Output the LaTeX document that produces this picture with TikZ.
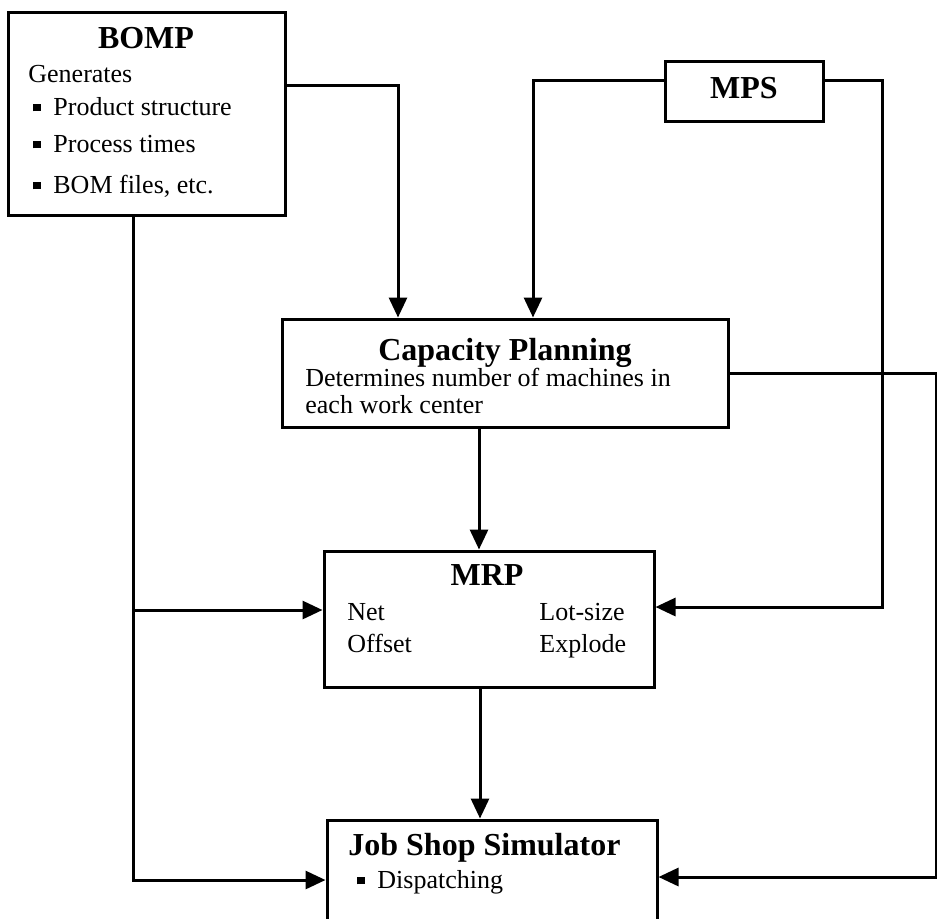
\documentclass[tikz,border=0pt]{standalone}
\usepackage{fontspec}
\setmainfont{Liberation Serif}
\usetikzlibrary{arrows.meta}

\newcommand{\sqitem}{\raisebox{0.3ex}{\rule{3.8pt}{3.8pt}}\hspace{6.2pt}}

\begin{document}
\begin{tikzpicture}[x=0.5pt,y=-0.5pt,
    box/.style={draw, line width=1.5pt, inner sep=0pt},
    ttl/.style={anchor=base, font=\fontsize{16}{18}\selectfont\bfseries, inner sep=0pt},
    txt/.style={anchor=base west, font=\fontsize{13}{15}\selectfont, inner sep=0pt},
    arr/.style={line width=1.5pt, -{Triangle[length=10pt,width=9pt]}}]
            \useasboundingbox (0,0) rectangle (937,918);

            \node[box, minimum width=138.5pt, minimum height=101.5pt] (bomp) at (146.5,113.5) {};
            \node[box, minimum width=79pt, minimum height=30pt] (mps) at (744,91) {};
            \node[box, minimum width=223pt, minimum height=54pt] (cap) at (505,373) {};
            \node[box, minimum width=165pt, minimum height=68pt] (mrp) at (489,619) {};
            \node[box, minimum width=165pt, minimum height=52.5pt] (jss) at (492,872.5) {};

            \node[ttl] (bompT) at (146,48) {BOMP};
            \node[txt] (gen) at (28,82) {Generates};
            \node[txt] (prod) at (33,115) {\sqitem Product structure};
            \node[txt] (proc) at (33,152) {\sqitem Process times};
            \node[txt] (bomf) at (33,193) {\sqitem BOM files, etc.};

            \node[ttl] (mpsT) at (744,98) {MPS};

            \node[ttl] (capT) at (505,360) {Capacity Planning};
            \node[txt] (det1) at (305,386) {Determines number of machines in};
            \node[txt] (det2) at (305,413) {each work center};

            \node[ttl] (mrpT) at (487,585) {MRP};
            \node[txt] (net) at (347,620) {Net};
            \node[txt] (off) at (347,652) {Offset};
            \node[txt] (lot) at (539,620) {Lot-size};
            \node[txt] (exp) at (539,652) {Explode};

            \node[ttl, anchor=base west] (jssT) at (348,855) {Job Shop Simulator};
            \node[txt] (disp) at (357,888) {\sqitem Dispatching};

            \coordinate (branch) at (133,610);

            \draw[arr] ([yshift=14.25pt]bomp.east) -| ([xshift=-53.5pt]cap.north);
            \draw[arr] ([yshift=5.5pt]mps.west) -| ([xshift=14pt]cap.north);
            \draw[arr] ([yshift=5.5pt]mps.east) -- ++(29pt,0) |- ([yshift=6pt]mrp.east);
            \draw[arr] (cap.east) -- ++(103.5pt,0) |- ([yshift=-2.25pt]jss.east);
            \draw[arr] ([xshift=-13pt]cap.south) -- ([xshift=-13pt]cap.south |- mrp.north);
            \draw[arr] ([xshift=-4.5pt]mrp.south) -- ([xshift=-4.5pt]mrp.south |- jss.north);
            \draw[arr] ([xshift=-6.75pt]bomp.south) |- ([yshift=-3.75pt]jss.west);
            \draw[arr] (branch) -- (branch -| mrp.west);
        \end{tikzpicture}
\end{document}
